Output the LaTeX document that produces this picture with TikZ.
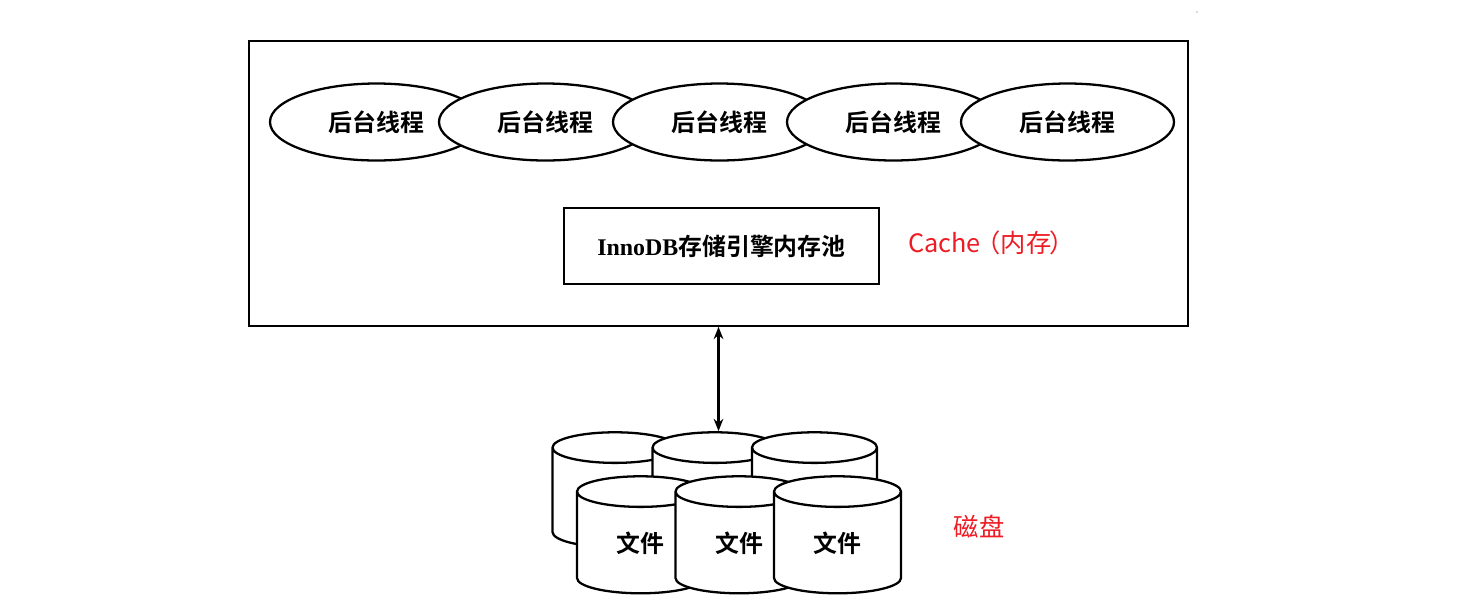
\documentclass[tikz,border=0pt]{standalone}
\usepackage{fontspec}
\setmainfont{Liberation Serif}
\newfontfamily\cjkb[BoldFont={Noto Sans CJK SC Bold}]{Noto Sans CJK SC}
\newfontfamily\redf{Noto Sans CJK SC}
\usetikzlibrary{positioning, shapes.geometric, arrows.meta}
\definecolor{notered}{HTML}{ED1C24}

\begin{document}
\begin{tikzpicture}[
      thrd/.style={ellipse, draw, fill=white, line width=1.3pt, minimum width=4.26cm,
      minimum height=1.54cm, inner sep=0pt, font=\fontsize{13.6}{16}\selectfont\cjkb\bfseries},
      drum/.style={cylinder, shape border rotate=90, draw, fill=white, line width=1.3pt,
      shape aspect=0.64, inner sep=0pt, font=\fontsize{13.6}{16}\selectfont\cjkb\bfseries},
      back/.style={drum, minimum width=2.5cm, minimum height=2.3cm},
      front/.style={drum, minimum width=2.54cm, minimum height=2.34cm},
      note/.style={text=notered, font=\fontsize{14.4}{17}\selectfont\redf}
    ]
    \useasboundingbox (0,0) rectangle (29.42,-12.26);

    % Outer frame
    \node[draw, line width=0.9pt, minimum width=18.78cm, minimum height=5.7cm, inner sep=0pt]
    (mem) at (14.37, -3.67) {};

    % Thread row
    \node[thrd] (th1) at (7.53,  -2.44) {后台线程};
    \node[thrd] (th2) at (10.91, -2.44) {后台线程};
    \node[thrd] (th3) at (14.39, -2.44) {后台线程};
    \node[thrd] (th4) at (17.87, -2.44) {后台线程};
    \node[thrd] (th5) at (21.35, -2.44) {后台线程};

    % Buffer pool
    \node[draw, line width=1.3pt, minimum width=6.3cm, minimum height=1.52cm, inner sep=0pt,
    font=\fontsize{13.6}{16}\selectfont\bfseries] (pool) at (14.43, -4.92)
    {InnoDB{\cjkb 存储引擎内存池}};
    \node[note, anchor=west] (cache) at (18.04, -4.86) {Cache\kern-3pt（内存\kern-1pt）};

    % Back row of files
    \node[back] (d1) at (12.30, -9.96) {\phantom{文件}};
    \node[back] (d2) at (14.30, -9.96) {\phantom{文件}};
    \node[back] (d3) at (16.29, -9.96) {\phantom{文件}};

    % Front row of files
    \node[front] (d4) at (12.81, -10.86) {文件};
    \node[front] (d5) at (14.78, -10.86) {文件};
    \node[front] (d6) at (16.75, -10.86) {文件};
    \node[note] (disk) at (19.58, -10.54) {磁盘};

    % Link
    \draw[{Stealth[length=7pt, width=5.5pt]}-{Stealth[length=7pt, width=5.5pt]}, line width=1.2pt]
    (mem.south) -- (mem.south |- d2.north);

    % Speck
    \fill[black!60] (23.94, -0.24) circle (0.012);
\end{tikzpicture}
\end{document}
